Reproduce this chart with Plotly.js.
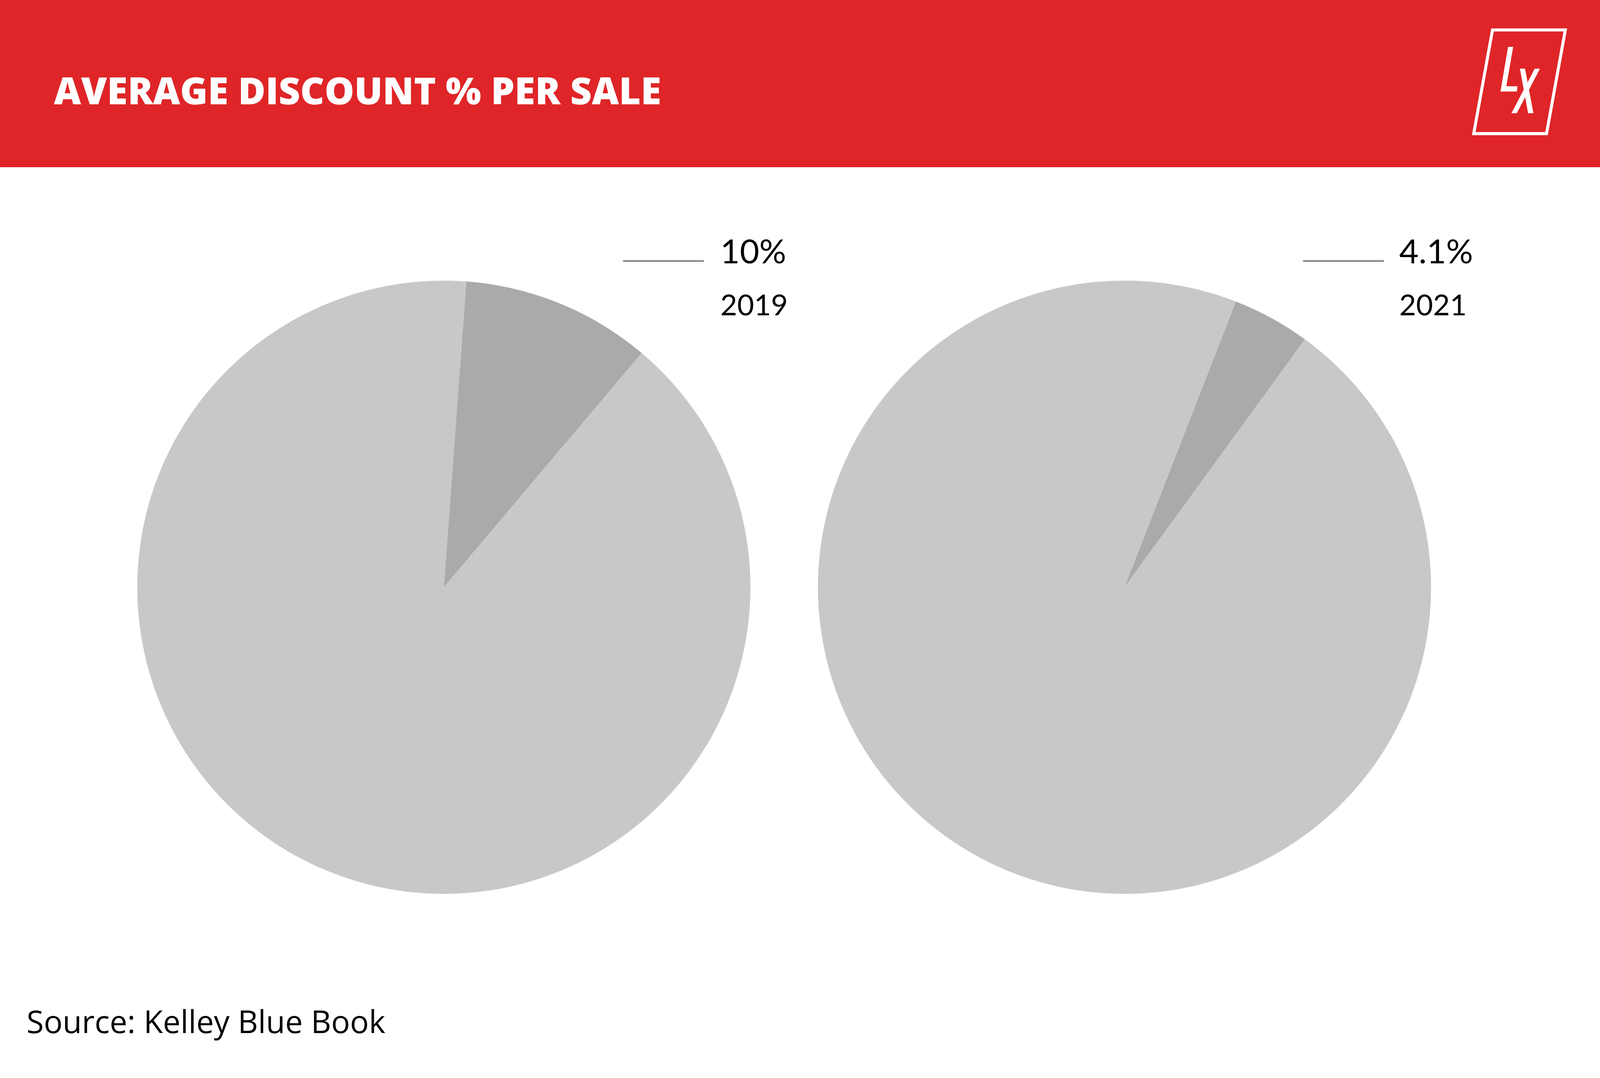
<!DOCTYPE html>
<html>
<head>
<meta charset="utf-8">
<script src="https://cdn.plot.ly/plotly-3.0.1.min.js"></script>
<style>html,body{margin:0;padding:0;background:#fff;overflow:hidden;}#chart{position:absolute;left:0;top:0;}</style>
</head>
<body>
<div id="chart"></div>
<script>
// ---- data ----
const years = ['2019', '2021'];
const discountPct = [10, 4.1];
const restPct = [90, 95.9];
const sliceNames = ['Discount', 'Full price'];
const chartTitle = 'AVERAGE DISCOUNT % PER SALE';
const sourceText = 'Source: Kelley Blue Book';

// ---- layout helpers (reference frame 5000 x 2759) ----
const RW = 5000, RH = 2759;
const W = window.innerWidth || RW;
const H = window.innerHeight || RH;
const S = Math.min(W / RW, H / RH);
const fx = px => px / RW;
const fy = py => 1 - py / RH;
const RED = '#df2527';
const DARK = '#aaaaaa';
const LIGHT = '#c8c8c8';
const LATO = 'Lato, "Open Sans", sans-serif';
const OPEN = '"Open Sans", Lato, sans-serif';

document.getElementById('chart').style.width = W + 'px';
document.getElementById('chart').style.height = H + 'px';

function pathFrom(points) {
  return 'M ' + points.map(p => fx(p[0]).toFixed(5) + ',' + fy(p[1]).toFixed(5)).join(' L ') + ' Z';
}
const lz = pts => pts.map(p => [4500 + p[0] / 3, p[1] / 3]);

const pieDomains = [
  {x: [fx(429), fx(2345)], y: [fy(2461), fy(545)]},
  {x: [fx(2556), fx(4472)], y: [fy(2461), fy(545)]}
];
const rotations = [4.2, 21.3];
const labelX = [2248, 4370];
const lineX = [[1947, 2200], [4072, 4325]];

const traces = years.map((yr, i) => ({
  type: 'pie',
  values: [discountPct[i], restPct[i]],
  labels: sliceNames,
  sort: false,
  direction: 'clockwise',
  rotation: rotations[i],
  textinfo: 'none',
  hoverinfo: 'skip',
  showlegend: false,
  marker: {colors: [DARK, LIGHT], line: {width: 0}},
  domain: pieDomains[i]
}));

const shapes = [
  {type: 'rect', xref: 'paper', yref: 'paper', x0: 0, x1: 1, y0: fy(428), y1: 1,
   fillcolor: RED, line: {width: 0}, layer: 'below'},
  {type: 'path', xref: 'paper', yref: 'paper',
   path: pathFrom(lz([[492.5, 230], [1175, 230], [998.5, 1026], [316, 1026]])),
   line: {color: '#ffffff', width: 9.5 * S}, fillcolor: 'rgba(0,0,0,0)'},
  {type: 'path', xref: 'paper', yref: 'paper',
   path: pathFrom(lz([[638, 360], [686, 360], [622, 662], [727, 662], [720, 703], [567, 703]])),
   line: {width: 0}, fillcolor: '#ffffff'},
  {type: 'path', xref: 'paper', yref: 'paper',
   path: pathFrom(lz([[749, 527], [797, 527], [876, 869], [826, 869]])),
   line: {width: 0}, fillcolor: '#ffffff'},
  {type: 'path', xref: 'paper', yref: 'paper',
   path: pathFrom(lz([[888, 527], [937, 527], [720, 869], [670, 869]])),
   line: {width: 0}, fillcolor: '#ffffff'}
];
lineX.forEach(lx => shapes.push({
  type: 'line', xref: 'paper', yref: 'paper',
  x0: fx(lx[0]), x1: fx(lx[1]), y0: fy(668), y1: fy(668),
  line: {color: '#444444', width: 3 * S}
}));

const annotations = [
  {text: chartTitle, xref: 'paper', yref: 'paper', x: fx(166), y: fy(230),
   xanchor: 'left', yanchor: 'middle', showarrow: false,
   font: {family: OPEN, size: 117 * S, color: '#ffffff', weight: 800}},
  {text: sourceText, xref: 'paper', yref: 'paper', x: fx(80), y: fy(2613),
   xanchor: 'left', yanchor: 'middle', showarrow: false,
   font: {family: OPEN, size: 98 * S, color: '#000000'}}
];
years.forEach((yr, i) => {
  annotations.push({text: discountPct[i] + '%', xref: 'paper', yref: 'paper',
    x: fx(labelX[i]), y: fy(640), xanchor: 'left', yanchor: 'middle', showarrow: false,
    font: {family: LATO, size: 105 * S, color: '#000000'}});
  annotations.push({text: yr, xref: 'paper', yref: 'paper',
    x: fx(labelX[i]), y: fy(778), xanchor: 'left', yanchor: 'middle', showarrow: false,
    font: {family: LATO, size: 91 * S, color: '#000000'}});
});

const layout = {
  width: W, height: H,
  margin: {l: 0, r: 0, t: 0, b: 0, pad: 0},
  paper_bgcolor: '#ffffff', plot_bgcolor: '#ffffff',
  showlegend: false, hovermode: false,
  shapes: shapes, annotations: annotations
};

Plotly.newPlot('chart', traces, layout, {staticPlot: true, displayModeBar: false});
</script>
</body>
</html>
